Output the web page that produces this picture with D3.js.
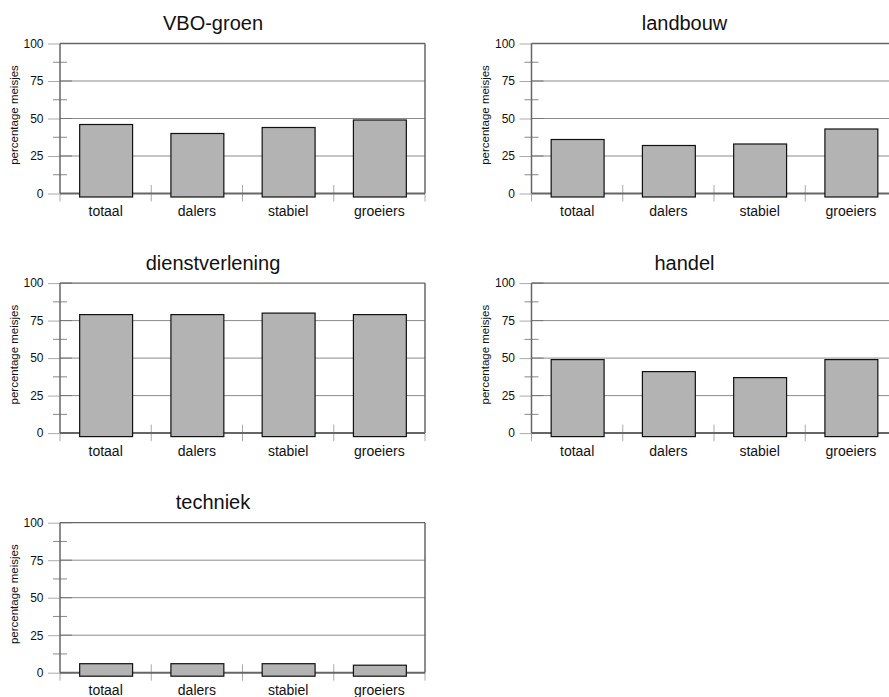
<!DOCTYPE html>
<html>
<head>
<meta charset="utf-8">
<script src="https://cdn.jsdelivr.net/npm/d3@7/dist/d3.min.js"></script>
<style>
  html, body { margin: 0; padding: 0; background: #fff; }
  svg { display: block; font-family: "Liberation Sans", Arial, Helvetica, sans-serif; }
</style>
</head>
<body>
<svg id="chart" width="889" height="697"></svg>
<script>
// ---- data ----
const categories = ["totaal", "dalers", "stabiel", "groeiers"];
const panelTitles = ["VBO-groen", "landbouw", "dienstverlening", "handel", "techniek"];
const vboGroen = [46, 40, 44, 49];
const landbouw = [36, 32, 33, 43];
const dienstverlening = [79, 79, 80, 79];
const handel = [49, 41, 37, 49];
const techniek = [6, 6, 6, 5];
const seriesValues = [vboGroen, landbouw, dienstverlening, handel, techniek];
const yTicks = [0, 25, 50, 75, 100];
const yMinorTicks = [12.5, 37.5, 62.5, 87.5];
const yLabel = "percentage meisjes";

// ---- layout ----
const svg = d3.select("#chart");
const colOffset = 471.5, rowOffset = 239.6;
const plotLeft = 60, plotRight = 425, plotTop = 43.5, plotZero = 193.5;

const x = d3.scaleBand().domain(categories).range([plotLeft, plotRight]).paddingInner(0).paddingOuter(0);
const y = d3.scaleLinear().domain([0, 100]).range([plotZero, plotTop]);
const barW = x.bandwidth() * 0.58;

seriesValues.forEach((vals, i) => {
  const col = i % 2, row = Math.floor(i / 2);
  const g = svg.append("g").attr("transform", `translate(${col * colOffset},${row * rowOffset})`);

  // title
  g.append("text").attr("x", 213).attr("y", 30).attr("text-anchor", "middle")
    .attr("font-size", 20).attr("fill", "#111").text(panelTitles[i]);

  // y-axis title
  g.append("text").attr("transform", `translate(17.5,115) rotate(-90)`)
    .attr("text-anchor", "middle").attr("font-size", 11.5).attr("fill", "#111").text(yLabel);

  // gridlines (25, 50, 75)
  g.append("g").selectAll("line").data(yTicks.filter(t => t > 0 && t < 100)).join("line")
    .attr("x1", plotLeft).attr("x2", plotRight)
    .attr("y1", d => y(d)).attr("y2", d => y(d))
    .attr("stroke", "#8a8a8a").attr("stroke-width", 1);

  // major tick stubs inside (gridline continuation, slightly darker)
  g.append("g").selectAll("line").data(yTicks).join("line")
    .attr("x1", plotLeft).attr("x2", plotLeft + 12)
    .attr("y1", d => y(d)).attr("y2", d => y(d))
    .attr("stroke", "#777").attr("stroke-width", 1);

  // minor ticks
  g.append("g").selectAll("line").data(yMinorTicks).join("line")
    .attr("x1", plotLeft - 7).attr("x2", plotLeft + 7)
    .attr("y1", d => y(d)).attr("y2", d => y(d))
    .attr("stroke", "#888").attr("stroke-width", 1);

  // y axis (labels and outer tick stubs)
  const yAxis = g.append("g").attr("transform", `translate(${plotLeft},0)`)
    .call(d3.axisLeft(y).tickValues(yTicks).tickSize(12).tickPadding(4.5));
  yAxis.select(".domain").remove();
  yAxis.selectAll(".tick line").attr("stroke", "#aaa");
  yAxis.selectAll(".tick text").attr("font-size", 12).attr("fill", "#111")
    .attr("font-family", "'Liberation Sans', Arial, sans-serif");

  // frame: top, right, left
  g.append("line").attr("x1", plotLeft).attr("x2", plotRight).attr("y1", y(100)).attr("y2", y(100))
    .attr("stroke", "#666").attr("stroke-width", 1.3);
  g.append("line").attr("x1", plotRight).attr("x2", plotRight).attr("y1", y(100)).attr("y2", y(0))
    .attr("stroke", "#666").attr("stroke-width", 1.5);
  g.append("line").attr("x1", plotLeft).attr("x2", plotLeft).attr("y1", y(100)).attr("y2", y(0))
    .attr("stroke", "#666").attr("stroke-width", 1.5);

  // category boundary ticks
  const bounds = categories.map(c => x(c)).concat([plotRight]);
  g.append("g").selectAll("line").data(bounds).join("line")
    .attr("x1", d => d).attr("x2", d => d)
    .attr("y1", (d, k) => (k === 0 || k === bounds.length - 1) ? y(0) : y(0) - 8.5)
    .attr("y2", y(0) + 8)
    .attr("stroke", "#aaa").attr("stroke-width", 1);

  // zero line
  g.append("line").attr("x1", plotLeft).attr("x2", plotRight).attr("y1", y(0)).attr("y2", y(0))
    .attr("stroke", "#666").attr("stroke-width", 2);

  // bars
  g.append("g").selectAll("rect").data(categories.map((c, k) => ({ c, v: vals[k] }))).join("rect")
    .attr("x", d => x(d.c) + (x.bandwidth() - barW) / 2 + 0.5)
    .attr("width", barW)
    .attr("y", d => y(d.v))
    .attr("height", d => y(0) - y(d.v) + 3.5)
    .attr("fill", "#b3b3b3").attr("stroke", "#111").attr("stroke-width", 1.2);

  // x axis labels
  const xAxis = g.append("g").attr("transform", `translate(0,${plotZero})`)
    .call(d3.axisBottom(x).tickSize(0).tickPadding(12.5));
  xAxis.select(".domain").remove();
  xAxis.selectAll(".tick text").attr("font-size", 14).attr("fill", "#111")
    .attr("font-family", "'Liberation Sans', Arial, sans-serif");
});
</script>
</body>
</html>
